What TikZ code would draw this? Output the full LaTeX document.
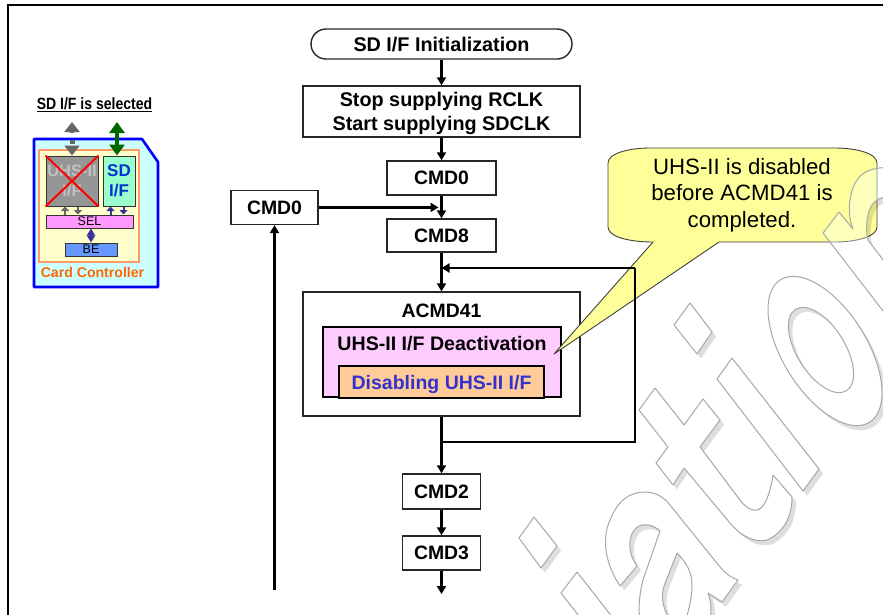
\documentclass[tikz,border=0pt]{standalone}
\usepackage{fontspec}
\setmainfont{Liberation Sans}
\newfontfamily\narrowsans[FakeStretch=0.86]{Liberation Sans}
\usetikzlibrary{arrows.meta,shapes.misc}
\definecolor{wmgray}{HTML}{A8A8A8}
\definecolor{calloutfill}{HTML}{FFFF99}
\definecolor{pinkfill}{HTML}{FFCCFF}
\definecolor{orangefill}{HTML}{FFCC99}
\definecolor{txtblue}{HTML}{3333CC}
\definecolor{sdblue}{HTML}{0033CC}
\definecolor{cardorange}{HTML}{FF6600}
\definecolor{arrowgray}{HTML}{666666}
\definecolor{arrowblue}{HTML}{333399}
\definecolor{arrowgreen}{HTML}{006600}
\definecolor{cardfill}{HTML}{CCFFFF}
\definecolor{cardline}{HTML}{0000FF}
\definecolor{ctrlfill}{HTML}{FFFFCC}
\definecolor{ctrlline}{HTML}{FF9966}
\definecolor{uhsfill}{HTML}{969696}
\definecolor{uhstext}{HTML}{C0C0C0}
\definecolor{sdfill}{HTML}{99FFCC}
\definecolor{selfill}{HTML}{FF99FF}
\definecolor{befill}{HTML}{6699FF}
\newcommand{\lowered}[2]{\raisebox{-#1}[\height][\depth]{#2}}
\tikzset{
  flowbox/.style={draw=black!85,line width=1.4pt,fill=white,inner sep=0pt,align=center,font=\bfseries\fontsize{19.4}{24}\selectfont},
  conn/.style={draw=black,line width=2.2pt,-{Triangle[length=8pt,width=9pt]}},
  plain/.style={draw=black,line width=2.2pt},
  cardbox/.style={inner sep=0pt,align=center,line width=1pt},
  cardarrow/.style={line width=2pt,-{Triangle[length=4.5pt,width=8pt]}},
  wmline/.style={draw=wmgray,line width=1pt,line join=round},
}
\newcommand{\wmshape}[1]{%
  \begin{scope}
    \pgfseteorule
    \clip (-10,-10) rectangle (900,640) #1;
    \fill[black,opacity=.13,shift={(4,4.5)}] #1;
  \end{scope}
  \fill[white,opacity=.35,even odd rule] #1;
  \draw[wmline] #1;
}
\begin{document}
\begin{tikzpicture}[x=1pt,y=-1pt]
\useasboundingbox (0,0) rectangle (883,614);
\fill[white] (0,0) rectangle (883,614);
% outer frame
\coordinate (fa) at (8,620); \coordinate (fb) at (8,5); \coordinate (fc) at (890,5);
\draw[line width=2pt] (fa) -- (fb) -- (fc);

% flow chart
\node[flowbox,rounded rectangle,minimum width=261pt,minimum height=30pt,font=\bfseries\fontsize{19.8}{24}\selectfont] (init) at (441.5,44) {\lowered{1pt}{SD I/F Initialization}};
\node[flowbox,minimum width=277pt,minimum height=51pt,font=\bfseries\fontsize{19.8}{24}\selectfont] (stop) at (441.5,111.5) {\lowered{2pt}{Stop supplying RCLK}\\\lowered{2pt}{Start supplying SDCLK}};
\node[flowbox,minimum width=109pt,minimum height=34pt] (cmd0) at (441.5,178) {CMD0};
\node[flowbox,minimum width=109pt,minimum height=33pt] (cmd8) at (441.5,235.5) {CMD8};
\node[flowbox,minimum width=87pt,minimum height=34pt] (cmd0l) at (274.5,207.4) {CMD0};
\node[draw=black!85,line width=1.3pt,fill=white,minimum width=277pt,minimum height=124pt] (acmd) at (441.5,354) {};
\node[font=\bfseries\fontsize{19.4}{24}\selectfont] (acmdt) at (441.5,310.5) {ACMD41};
\node[draw=black,line width=1.5pt,fill=pinkfill,minimum width=238pt,minimum height=70pt] (deact) at (442,362) {};
\node[font=\bfseries\fontsize{19.6}{24}\selectfont] (deactt) at (442,343.5) {UHS-II I/F Deactivation};
\node[draw=black,line width=1.5pt,fill=orangefill,minimum width=205pt,minimum height=32pt,font=\bfseries\fontsize{19.5}{24}\selectfont,text=txtblue] (disab) at (441.5,382) {\lowered{2pt}{Disabling UHS-II I/F}};
\node[flowbox,minimum width=78pt,minimum height=35pt] (cmd2) at (441.5,491.5) {CMD2};
\node[flowbox,minimum width=78pt,minimum height=34pt] (cmd3) at (441.5,553) {CMD3};

\coordinate (merge) at (441.5,207.4);
\coordinate (upstart) at (274.5,590);
\coordinate (next) at (441.5,594);
\coordinate (loopa) at (441.5,442);
\coordinate (loopb) at (635,442);
\coordinate (loopc) at (635,268);
\coordinate (loopd) at (441.5,268);

\draw[conn] (init.south) -- (stop.north);
\draw[conn] (stop.south) -- (cmd0.north);
\draw[conn] (cmd0.south) -- (cmd8.north);
\draw[conn,shorten >=3pt] (cmd0l.east) -- (merge);
\draw[conn] (upstart) -- (cmd0l.south);
\draw[conn] (cmd8.south) -- (acmd.north);
\draw[conn] (acmd.south) -- (cmd2.north);
\draw[conn] (cmd2.south) -- (cmd3.north);
\draw[conn] (cmd3.south) -- (next);

% callout
\path[draw=black!75,line width=.9pt,fill=calloutfill,line join=round]
  (608,163) .. controls (608,153) and (630,148) .. (650,148) -- (835,148)
  .. controls (855,148) and (877,153) .. (877,163) -- (877,227)
  .. controls (877,237) and (855,242) .. (835,242) -- (719,242) -- (554,354) -- (653,242)
  .. controls (630,242) and (608,237) .. (608,227) -- cycle;
\node[align=center,inner sep=0pt,font=\fontsize{22.2}{26.5}\selectfont] (note) at (742,195) {UHS-II is disabled\\before ACMD41 is\\completed.};

% loop back, over the callout
\draw[plain] (loopa) -- (loopb) -- (loopc);
\draw[conn] (loopc) -- (loopd);

% small card
\node[font=\narrowsans\bfseries\fontsize{16.3}{18}\selectfont,inner sep=0pt] (title) at (94.5,105) {\underline{SD I/F is selected}};
\path[draw=cardline,line width=2.6pt,fill=cardfill,line join=round]
  (34,139) -- (142,139) -- (158,162) -- (158,287) -- (34,287) -- cycle;
\node[cardbox,draw=ctrlline,line width=1.5pt,fill=ctrlfill,minimum width=100pt,minimum height=112pt] (ctrl) at (89,206) {};
\node[cardbox,draw=black!80,fill=uhsfill,minimum width=52pt,minimum height=50pt,font=\bfseries\fontsize{16.5}{20}\selectfont,text=uhstext] (uhs) at (72,181) {UHS-II\\I/F};
\draw[red,line width=2pt] (uhs.north west) -- (uhs.south east);
\draw[red,line width=2pt] (uhs.north east) -- (uhs.south west);
\node[cardbox,draw=black!80,fill=sdfill,minimum width=32pt,minimum height=50pt,font=\bfseries\fontsize{17}{20}\selectfont,text=sdblue] (sdif) at (119,181) {SD\\I/F};
\node[cardbox,draw=black!80,fill=selfill,minimum width=87pt,minimum height=13pt,font=\fontsize{12.5}{13}\selectfont] (sel) at (89.5,221.5) {SEL};
\node[cardbox,draw=black!80,fill=befill,minimum width=52pt,minimum height=13pt,font=\fontsize{12.5}{13}\selectfont] (be) at (91,249.5) {BE};
\node[text=cardorange,font=\bfseries\fontsize{14.1}{16}\selectfont,inner sep=0pt] (cc) at (92.5,272) {Card Controller};

% arrows in the card
\coordinate (gtop) at (72,122);
\coordinate (gmid) at (72,133);
\coordinate (glow) at (72,146);
\coordinate (gtopg) at (117,122);
\draw[draw=arrowgray,fill=arrowgray,line width=4pt,{Triangle[length=10pt,width=15pt]}-] (gtop) -- (gmid);
\fill[arrowgray] (69.5,139.5) rectangle (74.5,144);
\draw[draw=arrowgray,line width=4pt,-{Triangle[length=10pt,width=15pt]}] (glow) -- (uhs.north);
\draw[draw=arrowgreen,line width=4.5pt,{Triangle[length=11pt,width=15pt]}-{Triangle[length=11pt,width=15pt]}] (gtopg) -- (sdif.north -| gtopg);
\draw[cardarrow,draw=arrowgray] (sel.north -| 65,0) -- (uhs.south -| 65,0);
\draw[cardarrow,draw=arrowgray] (uhs.south -| 78,0) -- (sel.north -| 78,0);
\draw[cardarrow,draw=arrowblue] (sel.north -| 110.5,0) -- (sdif.south -| 110.5,0);
\draw[cardarrow,draw=arrowblue] (sdif.south -| 123.5,0) -- (sel.north -| 123.5,0);
\draw[draw=arrowblue,line width=2pt,{Triangle[length=7pt,width=8pt]}-{Triangle[length=7pt,width=8pt]}] (sel.south -| be.north) -- (be.north);

% watermark
\wmshape{(519,538) -- (534,517) -- (557,546) -- (541,568) -- cycle}
\wmshape{(561,593) -- (577,572) -- (620,627) -- (604,648) -- cycle}
\wmshape{(620,586) .. controls (606,565) and (601,540) .. (610,520) .. controls (618,500) and (630,492) .. (645,492) .. controls (655,492) and (664,497) .. (670,505) -- (720,567) .. controls (726,574) and (732,578) .. (738,580) -- (722,602) -- (708,593) .. controls (712,603) and (712,615) .. (708,630) -- (642,630) .. controls (638,615) and (638,600) .. (643,580) -- (660,531) .. controls (654,525) and (643,522) .. (636,528) .. controls (628,536) and (627,552) .. (637,566) -- cycle
  (677,553) .. controls (686,562) and (692,572) .. (692,585) .. controls (692,600) and (688,612) .. (683,630) -- (674,630) .. controls (664,610) and (660,600) .. (664,586) -- cycle}
\wmshape{(655,388) -- (684,425) -- (703,399) -- (720,420) -- (700,447) -- (740,500) .. controls (746,508) and (752,511) .. (757,510) .. controls (764,509) and (770,495) .. (773,475) -- (792,497) .. controls (792,515) and (785,532) .. (767,540) .. controls (755,543) and (742,537) .. (730,523) -- (684,468) -- (673,485) -- (656,463) -- (668,447) -- (639,410) -- cycle}
\wmshape{(674,325) -- (690,303) -- (712,332) -- (697,354) -- cycle}
\wmshape{(717,379) -- (732,358) -- (819,469) -- (803,491) -- cycle}
\wmshape{(825,351) ellipse [x radius=84pt,y radius=42pt,rotate=-58] (821,350) ellipse [x radius=48pt,y radius=24pt,rotate=-58]}
\wmshape{(823,233) -- (839,212) -- (853,229) .. controls (846,212) and (850,190) .. (857,180) .. controls (864,170) and (875,166) .. (900,168) -- (900,195) .. controls (880,196) and (873,200) .. (869,211) .. controls (866,222) and (866,232) .. (868,240) -- (900,282) -- (900,333) -- cycle}
\end{tikzpicture}
\end{document}
